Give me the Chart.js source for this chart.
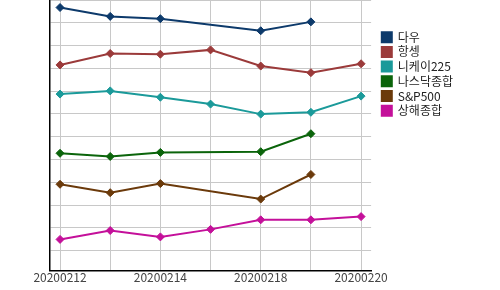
<!DOCTYPE html>
<html><head><meta charset="utf-8">
<script src="https://cdn.jsdelivr.net/npm/chart.js@4/dist/chart.umd.min.js"></script>
<style>html,body{margin:0;padding:0;background:#fff;}#wrap{width:500px;height:290px;}</style>
</head><body><div id="wrap"><canvas id="c"></canvas></div>
<script>
const categories = ['20200212','20200213','20200214','20200217','20200218','20200219','20200220'];
const seriesNames = ['다우','항셍','니케이225','나스닥종합','S&P500','상해종합'];
const dow     = [106.7, 102.8, 101.8, null, 96.5, 100.4, null];
const hangseng= [81.5, 86.5, 86.2, 88.1, 81.0, 78.1, 82.0];
const nikkei  = [68.7, 70.1, 67.3, 64.3, 59.9, 60.7, 67.8];
const nasdaq  = [42.7, 41.3, 43.1, null, 43.4, 51.3, null];
const sp500   = [29.1, 25.4, 29.4, null, 22.6, 33.4, null];
const shanghai= [4.9, 8.8, 6.0, 9.3, 13.5, 13.5, 14.9];
const colors = ['#0d3a6b','#9b3a3a','#1b9a9a','#0b640b','#6b3a0b','#c4109a'];
const allSeries = [dow, hangseng, nikkei, nasdaq, sp500, shanghai];

const datasets = allSeries.map((vals, k) => ({
  label: seriesNames[k],
  data: vals.map((v, i) => ({x: i, y: v})),
  borderColor: colors[k],
  backgroundColor: colors[k],
  borderWidth: 2,
  pointStyle: 'rectRot',
  pointRadius: 4,
  pointHoverRadius: 4,
  pointBorderWidth: 1,
  spanGaps: true,
  tension: 0
}));

const legendShift = {
  id: 'legendShift',
  afterLayout(chart) {
    if (chart.legend) { chart.legend.left += 8; chart.legend.right += 8; }
  }
};

new Chart(document.getElementById('c'), {
  type: 'line',
  data: { datasets },
  plugins: [legendShift],
  options: {
    responsive: true,
    maintainAspectRatio: false,
    animation: false,
    layout: { autoPadding: false, padding: { left: 50, right: 45, top: 0, bottom: 5 } },
    plugins: {
      tooltip: { enabled: false },
      legend: {
        position: 'right',
        align: 'start',
        title: { display: true, text: ' ', font: { size: 10 }, padding: { top: 16.5, bottom: 0 } },
        labels: {
          boxWidth: 10, boxHeight: 10, padding: 2.7,
          color: '#222',
          font: { family: '"Noto Sans CJK KR", "Noto Sans", sans-serif', size: 12 }
        }
      }
    },
    scales: {
      x: {
        type: 'linear',
        min: -0.2, max: 6.2,
        grid: { color: '#c8c8c8', lineWidth: 1, drawTicks: false },
        border: { color: '#000', width: 1.5 },
        ticks: {
          stepSize: 1, includeBounds: false, autoSkip: false, maxRotation: 0, padding: 0,
          color: '#444',
          font: { family: '"Noto Sans CJK KR", "Noto Sans", sans-serif', size: 12 },
          callback: (v) => (Number.isInteger(v) && v % 2 === 0) ? categories[v] : ''
        }
      },
      y: {
        min: -8.8, max: 110,
        grid: { color: '#c8c8c8', lineWidth: 1, drawTicks: false },
        border: { color: '#000', width: 1.5 },
        ticks: { display: false, stepSize: 10, includeBounds: false }
      }
    }
  }
});
</script></body></html>
